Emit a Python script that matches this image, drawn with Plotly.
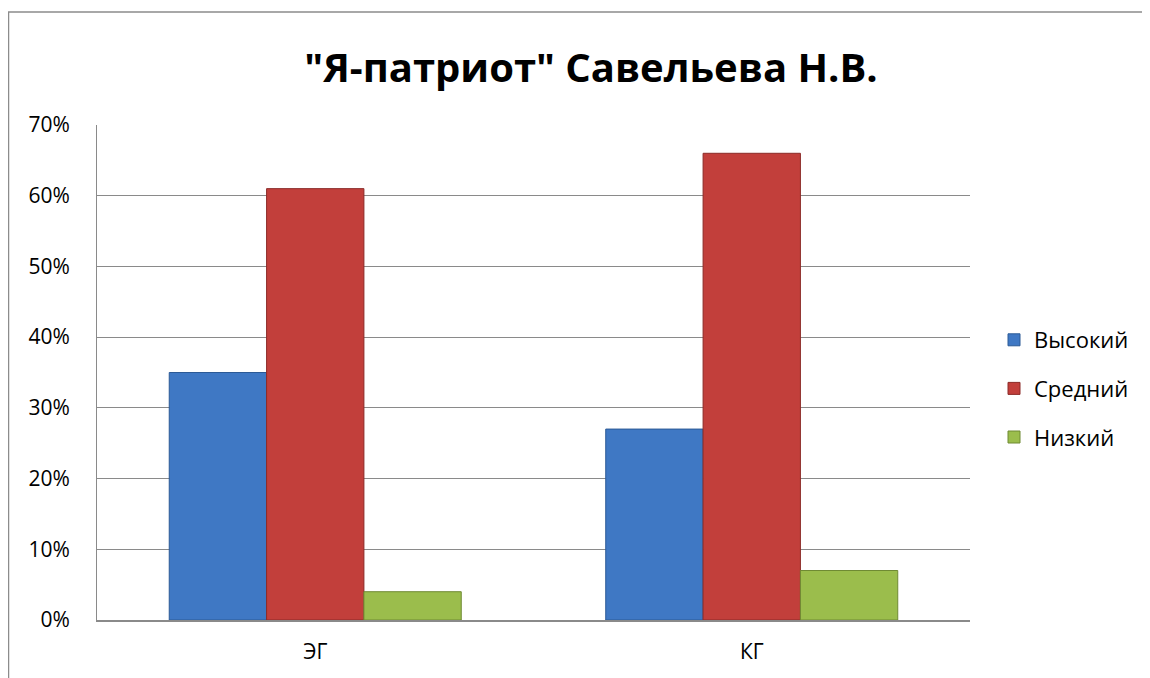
import plotly.graph_objects as go

categories = ["ЭГ", "КГ"]
series_names = ["Высокий", "Средний", "Низкий"]
vysokiy = [0.35, 0.27]
sredniy = [0.61, 0.66]
nizkiy = [0.04, 0.07]
y_ticks = [0, 0.1, 0.2, 0.3, 0.4, 0.5, 0.6, 0.7]
title_text = "\"Я-патриот\" Савельева Н.В."

colors = ["#3f78c4", "#c23f3b", "#9bbd4c"]
edge = ["#2c5a96", "#8c2b28", "#6f8a33"]

OFF = 8  # page body margin
W, H = 1150 - OFF, 678 - OFF
L, R, T, B = 97 - OFF, 970 - OFF, 125 - OFF, 620 - OFF
FONT = "Open Sans, Lato, Liberation Sans"

fig = go.Figure()
for i, (name, vals) in enumerate(zip(series_names, [vysokiy, sredniy, nizkiy])):
    fig.add_trace(go.Bar(
        x=categories, y=vals, name=name,
        marker=dict(color=colors[i], line=dict(color=edge[i], width=1)),
        legendgroup=name,
    ))

def px_x(p):
    return (p - OFF - L) / (R - L)

def px_y(p):
    return (B - (p - OFF)) / (B - T)

fig.update_layout(
    width=W, height=H,
    margin=dict(l=L, r=W - R, t=T, b=H - B),
    paper_bgcolor="white", plot_bgcolor="white",
    barmode="group", bargap=0.331, bargroupgap=0,
    font=dict(family=FONT, size=21, color="black"),
    title=dict(text="<b>" + title_text + "</b>", x=px_x(591), xref="paper",
               xanchor="center", y=1 - (68 - OFF) / H, yanchor="middle",
               font=dict(size=40, family=FONT)),
    legend=dict(x=px_x(994), xanchor="left", y=px_y(319), yanchor="top",
                traceorder="grouped", tracegroupgap=17,
                font=dict(size=22, color="black"), itemwidth=30),
    showlegend=True,
    shapes=[dict(type="rect", xref="paper", yref="paper",
                 x0=px_x(8.5), x1=px_x(1170), y0=px_y(700), y1=px_y(12),
                 line=dict(color="#8c8c8c", width=1.5), fillcolor="rgba(0,0,0,0)",
                 layer="below")],
)
fig.update_yaxes(range=[0, 0.7], tickvals=y_ticks, tickformat=".0%",
                 showgrid=True, gridcolor="#8a8a8a", gridwidth=1,
                 showline=True, linecolor="#8a8a8a", linewidth=1,
                 ticks="", ticklen=0, zeroline=False, ticklabelstandoff=22,
                 tickfont=dict(size=21, family=FONT))
fig.update_xaxes(showline=True, linecolor="#8a8a8a", linewidth=1.5,
                 ticks="", showgrid=False, ticklabelstandoff=12,
                 tickfont=dict(size=21, family=FONT))

fig.write_html("out.html")
